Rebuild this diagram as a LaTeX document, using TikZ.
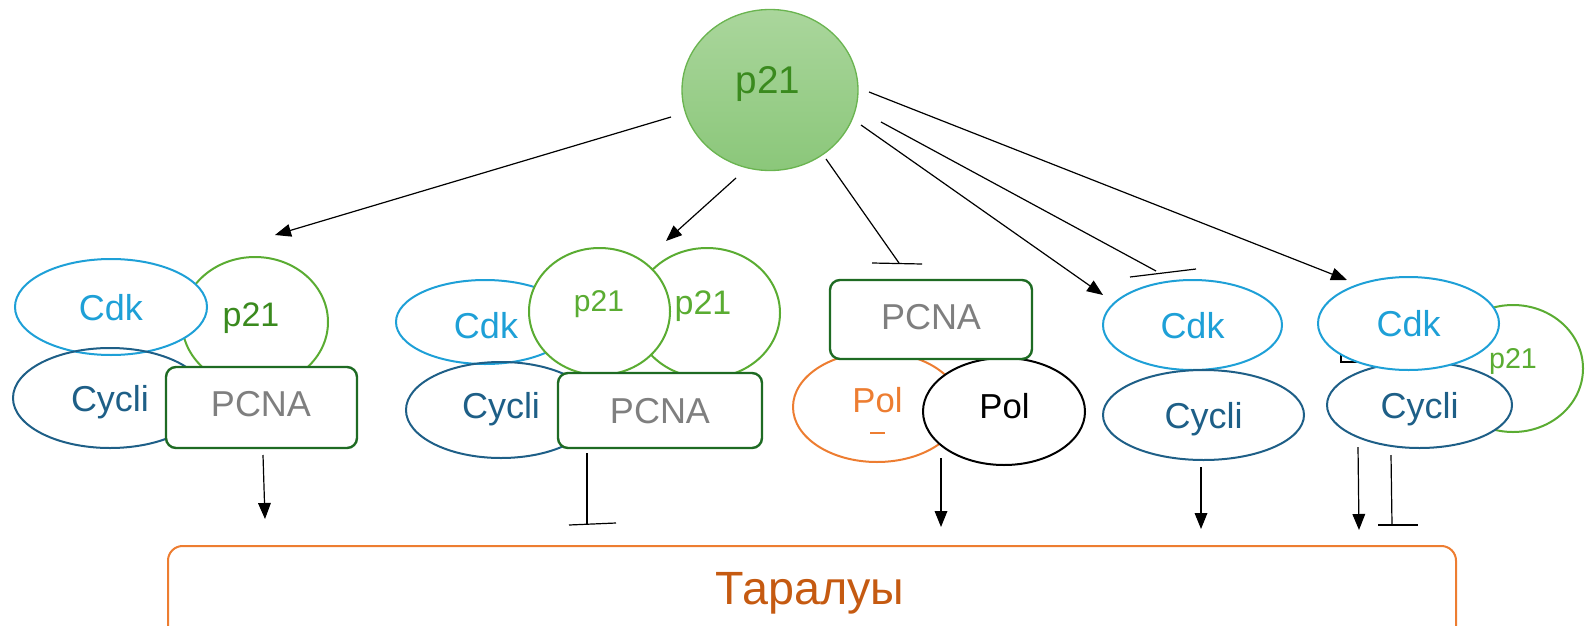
\documentclass[tikz,border=0pt]{standalone}
\usepackage{fontspec}
\setmainfont{Liberation Sans}
\usetikzlibrary{shapes.geometric,arrows.meta}
\definecolor{cdkc}{RGB}{30,160,215}
\definecolor{cycc}{RGB}{30,95,135}
\definecolor{p21c}{RGB}{90,172,50}
\definecolor{p21t}{RGB}{58,138,30}
\definecolor{pcnab}{RGB}{30,107,35}
\definecolor{pcnat}{RGB}{127,127,127}
\definecolor{polc}{RGB}{237,125,49}
\definecolor{boxt}{RGB}{197,90,17}
\definecolor{topa}{RGB}{170,214,156}
\definecolor{topb}{RGB}{139,199,122}
\definecolor{topd}{RGB}{106,180,80}
\begin{document}
\begin{tikzpicture}[x=0.75pt,y=-0.75pt,
  every node/.style={text depth=0pt},
  oval/.style 2 args={ellipse, inner sep=0pt, minimum width=#1*1.5pt, minimum height=#2*1.5pt, line width=1.5pt},
  fs/.style={font=\fontsize{#1}{#1}\selectfont},
  cdk/.style={draw=cdkc, text=cdkc, fill=white, fs=27},
  cyc/.style={draw=cycc, text=cycc, fs=27},
  ptw/.style={draw=p21c, fill=white},
  pcna/.style 2 args={rectangle, rounded corners=7.5pt, draw=pcnab, line width=1.8pt, fill=white, text=pcnat, fs=27, inner sep=0pt, minimum width=#1*0.75pt, minimum height=#2*0.75pt},
  act/.style={line width=0.9pt, -{Triangle[length=12pt,width=9.5pt]}},
  inh/.style={line width=0.9pt}]
\useasboundingbox (0,0) rectangle (1588,625);
\clip (0,0) rectangle (1588,625);

% top p21
\node[oval={88}{80.5}, top color=topa, bottom color=topb, draw=topd, line width=1pt] (top) at (770,90) {};
\node[text=p21t, fs=29] (topl) at (768,80) {p21};

% group 1
\node[oval={73}{65}, ptw] (g1p) at (255,322) {};
\node[text=p21t, fs=25.5] (g1pl) at (251,315) {p21};
\node[oval={96}{48}, cdk] (g1cdk) at (111,307) {Cdk};
\node[oval={97}{50}, cyc] (g1cyc) at (110,398) {Cycli};
\node[pcna={191}{81}] (g1pcna) at (261.5,407.5) {};
\node[text=pcnat, fs=27] (g1pcnal) at (261,404) {PCNA};

% group 2
\node[oval={73}{65}, ptw] (g2pb) at (707,313) {};
\node[text=p21c, fs=25.5] (g2pbl) at (703,303) {p21};
\node[oval={89}{42}, cdk] (g2cdk) at (485,322) {};
\node[text=cdkc, fs=27] (g2cdkl) at (486,325) {Cdk};
\node[oval={95}{48}, cyc] (g2cyc) at (501,410) {};
\node[text=cycc, fs=27] (g2cycl) at (501,405) {Cycli};
\node[oval={70.5}{63.5}, ptw] (g2pf) at (599.5,311.5) {};
\node[text=p21c, fs=22.5] (g2pfl) at (599,301) {p21};
\node[pcna={204}{75}] (g2pcna) at (660,410.5) {PCNA};

% group 3
\node[oval={84}{55}, draw=polc, fill=white] (g3pola) at (877,407) {};
\node[text=polc, fs=26] (g3polal) at (877.5,400) {Pol};
\draw[polc, line width=0.8pt] (870,433) -- (885,433);
\node[oval={81}{53.5}, draw=black, fill=white] (g3polb) at (1004,411.5) {};
\node[text=black, fs=26] (g3polbl) at (1004.5,406) {Pol};
\node[pcna={202}{79}] (g3pcna) at (931,319.5) {};
\node[text=pcnat, fs=27] (g3pcnal) at (931,317) {PCNA};

% group 4
\node[oval={89.5}{45}, cdk] (g4cdk) at (1192.5,325) {Cdk};
\node[oval={100.5}{45}, cyc, fill=white] (g4cyc) at (1203.5,415) {Cycli};

% group 5
\node[oval={70}{63.5}, ptw] (g5p) at (1513,368.5) {};
\node[text=p21c, fs=21.5] (g5pl) at (1513,358) {p21};
\node[oval={92.5}{43}, cyc, fill=white] (g5cyc) at (1419.5,405) {Cycli};
\draw[line width=1pt] (1341,350) -- (1341,362) -- (1360,362);
\node[oval={90.5}{46.5}, cdk] (g5cdk) at (1408.5,323.5) {Cdk};

% bottom box
\node[rectangle, rounded corners=11pt, draw=polc, line width=1.5pt, minimum width=1288*0.75pt, minimum height=120*0.75pt, anchor=north west, inner sep=0pt] (box) at (167,545) {};
\node[text=boxt, fs=35] (boxl) at (810,588) {Таралуы};

% coordinates of connector ends
\coordinate (s1) at (671,117); \coordinate (e1) at (275,235);
\coordinate (s2) at (736,178); \coordinate (e2) at (666,241);
\coordinate (s3) at (826,159); \coordinate (e3) at (899,263);
\coordinate (b3a) at (872,263); \coordinate (b3b) at (922,264);
\coordinate (s4) at (861,125); \coordinate (e4) at (1103,295);
\coordinate (s5) at (881,122); \coordinate (e5) at (1156,271);
\coordinate (b5a) at (1130,277); \coordinate (b5b) at (1196,269);
\coordinate (s6) at (869,92); \coordinate (e6) at (1347,280);

\coordinate (d1s) at (263,455); \coordinate (d1e) at (265,519);
\coordinate (d2s) at (587,453); \coordinate (d2e) at (587,524);
\coordinate (d2a) at (569,525); \coordinate (d2b) at (616,523);
\coordinate (d3s) at (941,458); \coordinate (d3e) at (941,527);
\coordinate (d4s) at (1201,467); \coordinate (d4e) at (1201,529);
\coordinate (d5s) at (1358,447); \coordinate (d5e) at (1359,530);
\coordinate (d6s) at (1391,455); \coordinate (d6e) at (1392,525);
\coordinate (d6a) at (1378,525); \coordinate (d6b) at (1418,525);

\draw[act] (s1) -- (e1);
\draw[act] (s2) -- (e2);
\draw[inh] (s3) -- (e3); \draw[inh] (b3a) -- (b3b);
\draw[act] (s4) -- (e4);
\draw[inh] (s5) -- (e5); \draw[inh] (b5a) -- (b5b);
\draw[act] (s6) -- (e6);

\draw[act] (d1s) -- (d1e);
\draw[inh] (d2s) -- (d2e); \draw[inh] (d2a) -- (d2b);
\draw[act] (d3s) -- (d3e);
\draw[act] (d4s) -- (d4e);
\draw[act] (d5s) -- (d5e);
\draw[inh] (d6s) -- (d6e); \draw[inh] (d6a) -- (d6b);
\end{tikzpicture}
\end{document}
